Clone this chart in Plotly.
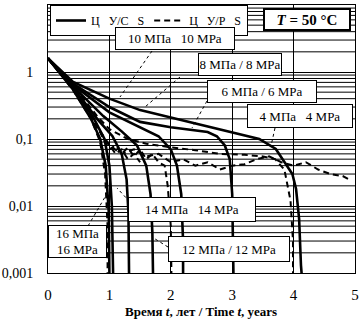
import plotly.graph_objects as go
import math

# ---- data (time in years, value on log axis) ----
t_s4 = [0, 0.4, 1.0, 1.5, 2.0, 2.6, 3.0, 3.44, 3.71, 3.87, 3.98, 4.04, 4.09, 4.12, 4.13]
v_s4 = [1.6, 0.72, 0.40, 0.27, 0.21, 0.155, 0.125, 0.10, 0.071, 0.042, 0.030, 0.018, 0.0064, 0.0013, 0.001]
t_s6 = [0, 0.4, 1.0, 1.5, 2.0, 2.6, 2.75, 2.88, 2.96, 3.0, 3.02]
v_s6 = [1.6, 0.68, 0.30, 0.18, 0.15, 0.127, 0.11, 0.08, 0.05, 0.015, 0.001]
t_s8 = [0, 0.4, 1.0, 1.5, 1.8, 2.0, 2.1, 2.17, 2.2, 2.2]
v_s8 = [1.6, 0.65, 0.25, 0.15, 0.11, 0.07, 0.04, 0.015, 0.003, 0.001]
t_s10 = [0, 0.4, 0.9, 1.2, 1.45, 1.6, 1.67, 1.7, 1.71]
v_s10 = [1.6, 0.62, 0.22, 0.13, 0.08, 0.04, 0.015, 0.004, 0.001]
t_s12 = [0, 0.4, 0.8, 1.05, 1.2, 1.28, 1.31, 1.32]
v_s12 = [1.6, 0.6, 0.2, 0.11, 0.06, 0.025, 0.008, 0.001]
t_s14 = [0, 0.4, 0.75, 0.92, 1.0, 1.04, 1.06]
v_s14 = [1.6, 0.58, 0.2, 0.1, 0.04, 0.01, 0.001]
t_s16 = [0, 0.4, 0.7, 0.85, 0.94, 0.99, 1.0]
v_s16 = [1.6, 0.56, 0.2, 0.1, 0.04, 0.008, 0.001]

t_d16 = [0, 0.4, 0.7, 0.85, 0.93, 0.97, 0.97]
v_d16 = [1.6, 0.55, 0.2, 0.09, 0.03, 0.005, 0.001]
t_d12 = [0, 0.4, 0.8, 1.0, 1.1, 1.2, 1.3, 1.4, 1.5]
v_d12 = [1.6, 0.6, 0.15, 0.08, 0.06, 0.07, 0.05, 0.06, 0.045]
t_d8 = [0, 0.4, 0.75, 0.9, 1.0, 1.1, 1.2, 1.3, 1.4, 1.5, 1.6, 1.7, 1.8, 1.9, 1.95, 2.0, 2.01]
v_d8 = [1.6, 0.6, 0.2, 0.1, 0.07, 0.08, 0.06, 0.075, 0.055, 0.07, 0.05, 0.06, 0.045, 0.04, 0.02, 0.005, 0.001]
t_d4 = [0, 0.4, 0.8, 1.0, 1.3, 1.6, 2.0, 2.4, 2.8, 3.2, 3.5, 3.7, 3.85, 3.95, 3.99, 3.99]
v_d4 = [1.6, 0.65, 0.22, 0.14, 0.1, 0.085, 0.075, 0.068, 0.06, 0.058, 0.055, 0.05, 0.035, 0.012, 0.003, 0.001]
t_dl = [0, 0.4, 0.8, 1.0, 1.2, 1.4, 1.6, 1.8, 2.0, 2.2, 2.4, 2.6, 2.8, 3.0, 3.2, 3.4, 3.6, 3.8, 4.0, 4.2, 4.4, 4.6, 4.8, 4.9]
v_dl = [1.6, 0.6, 0.15, 0.08, 0.06, 0.07, 0.055, 0.06, 0.045, 0.05, 0.04, 0.045, 0.035, 0.04, 0.042, 0.05, 0.055, 0.045, 0.04, 0.045, 0.035, 0.03, 0.028, 0.025]

x_ticks = [0, 1, 2, 3, 4, 5]
y_ticks = [0.001, 0.01, 0.1, 1, 10]
y_ticktext = ["0,001", "0,01", "0,1", "1", "10"]

legend_solid = "Ц\u00a0\u00a0\u00a0У/С\u00a0\u00a0\u00a0S"
legend_dash = "Ц\u00a0\u00a0\u00a0У/Р\u00a0\u00a0\u00a0S"

FONT = "Liberation Serif, Times New Roman, serif"
W, H = 359, 321
L, R, T, B = 48, 4, 5, 48
PW, PH = W - L - R, H - T - B

def px(x):
    return (x - L) / PW

def py(y):
    return (H - B - y) / PH

fig = go.Figure()
solid = [(t_s4, v_s4), (t_s6, v_s6), (t_s8, v_s8), (t_s10, v_s10),
         (t_s12, v_s12), (t_s14, v_s14), (t_s16, v_s16)]
dashed = [(t_d16, v_d16), (t_d12, v_d12), (t_d8, v_d8), (t_d4, v_d4), (t_dl, v_dl)]
for i, (t, v) in enumerate(solid):
    fig.add_trace(go.Scatter(x=t, y=v, mode="lines", line=dict(color="black", width=2.6),
                             name=legend_solid, showlegend=(i == 0), legendrank=1))
for i, (t, v) in enumerate(dashed):
    fig.add_trace(go.Scatter(x=t, y=v, mode="lines", line=dict(color="black", width=2, dash="6px,4px"),
                             name=legend_dash, showlegend=(i == 0), legendrank=2))

shapes = []
# minor log grid
for e in range(-3, 1):
    for k in range(2, 10):
        val = k * 10 ** e
        yy = (math.log10(val) + 3) / 4
        shapes.append(dict(type="line", xref="paper", yref="paper", x0=0, x1=1, y0=yy, y1=yy,
                           line=dict(color="black", width=1), layer="below"))
# leader lines (dotted)
leaders = [((152, 51), (120, 97)), ((180, 77), (145, 107)), ((207, 101), (192, 128)),
           ((275, 128), (271, 146)), ((88, 226), (108, 192)), ((130, 202), (117, 188)),
           ((168, 247), (152, 237))]
for (a, b) in leaders:
    shapes.append(dict(type="line", xref="paper", yref="paper", x0=px(a[0]), y0=py(a[1]),
                       x1=px(b[0]), y1=py(b[1]), line=dict(color="black", width=1, dash="dot")))

annotations = []
def box(text, x0, x1, y0, y1, size=13, bw=1):
    annotations.append(dict(xref="paper", yref="paper", x=px((x0 + x1) / 2), y=py((y0 + y1) / 2),
                            xanchor="center", yanchor="middle", text=text, showarrow=False,
                            font=dict(family=FONT, size=size, color="black"),
                            bgcolor="white", bordercolor="black", borderwidth=bw, borderpad=0,
                            width=x1 - x0 - 2 * bw, height=y1 - y0 - 2 * bw, align="center"))

box("10 МПа\u00a0\u00a0\u00a010 МРа", 115, 235, 27, 50)
box("8 МПа / 8 МРа", 198, 282, 53, 76)
box("6 МПа / 6 МРа", 207, 317, 80, 103)
box("4 МПа\u00a0\u00a0\u00a04 МРа", 247, 353, 104, 128)
box("14 МПа\u00a0\u00a0\u00a014 МРа", 128, 256, 197, 222)
box("12 МПа / 12 МРа", 168, 290, 236, 262)
box("16 МПа<br>16 МРа", 48, 107, 225, 258)
box("<b><i>T</i> = 50 °C</b>", 263, 351, 8, 31, size=15, bw=2)

annotations.append(dict(xref="paper", yref="paper", x=px(201), y=py(311), xanchor="center",
                        yanchor="middle", showarrow=False,
                        text="<b>Время <i>t</i>, лет / Time <i>t</i>, years</b>",
                        font=dict(family=FONT, size=13, color="black")))

fig.update_layout(
    width=W, height=H, margin=dict(l=L, r=R, t=T, b=B, autoexpand=False),
    paper_bgcolor="white", plot_bgcolor="white",
    font=dict(family=FONT, size=14, color="black"),
    shapes=shapes, annotations=annotations,
    showlegend=True,
    legend=dict(orientation="h", x=px(50), y=py(5), xanchor="left", yanchor="top",
                bgcolor="white", bordercolor="black", borderwidth=1,
                font=dict(family=FONT, size=12, color="black"),
                itemwidth=30, tracegroupgap=0),
)
fig.update_xaxes(range=[0, 5], tickvals=x_ticks, ticks="", showgrid=True, gridcolor="black",
                 gridwidth=1, showline=True, mirror=True, linecolor="black", linewidth=1,
                 zeroline=False, ticklabelstandoff=8, tickfont=dict(family=FONT, size=15),
                 automargin=False)
fig.update_yaxes(type="log", range=[-3, 1], tickvals=y_ticks, ticktext=y_ticktext, ticks="",
                 showgrid=True, gridcolor="black", gridwidth=1, showline=True, mirror=True,
                 linecolor="black", linewidth=1, ticklabelstandoff=11,
                 tickfont=dict(family=FONT, size=14), automargin=False)

fig.write_html("out.html", config={"displayModeBar": False},
               post_script="document.body.style.margin='0';")
